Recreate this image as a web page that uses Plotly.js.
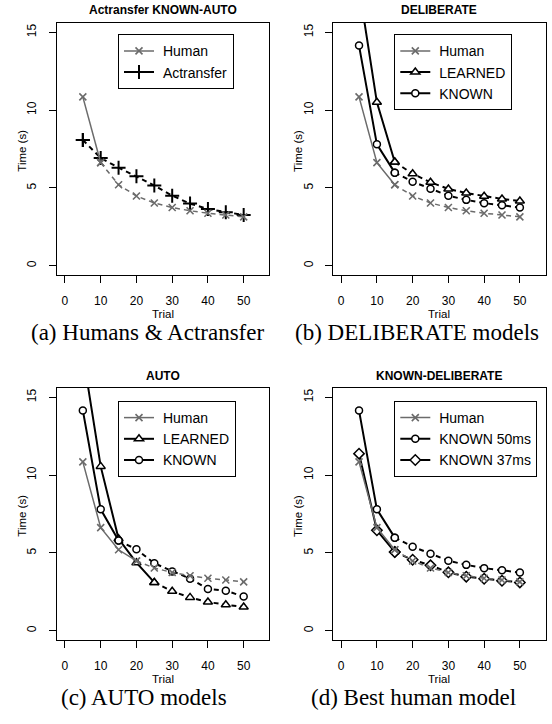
<!DOCTYPE html>
<html>
<head>
<meta charset="utf-8">
<script src="https://cdn.plot.ly/plotly-3.0.1.min.js"></script>
<style>
html,body{margin:0;padding:0;background:#fff;}
#chart{width:552px;height:724px;}
</style>
</head>
<body>
<div id="chart"></div>
<script>
// ---- data ----
var trials = [5, 10, 15, 20, 25, 30, 35, 40, 45, 50];
var human = [10.85, 6.62, 5.2, 4.48, 4.03, 3.74, 3.53, 3.37, 3.26, 3.14];
var actransfer = [8.08, 6.92, 6.3, 5.75, 5.15, 4.5, 3.99, 3.64, 3.43, 3.26];
var delibLearned = [17.9, 10.5, 6.66, 5.91, 5.36, 4.93, 4.67, 4.46, 4.29, 4.16];
var delibKnown = [14.15, 7.8, 5.98, 5.4, 4.95, 4.5, 4.23, 4.02, 3.88, 3.74];
var autoLearned = [17.8, 10.56, 5.91, 4.37, 3.1, 2.53, 2.14, 1.84, 1.67, 1.52];
var autoKnown = [14.16, 7.8, 5.79, 5.23, 4.33, 3.81, 3.34, 2.68, 2.57, 2.19];
var known50 = [14.15, 7.8, 5.98, 5.4, 4.95, 4.5, 4.23, 4.02, 3.88, 3.74];
var known37 = [11.38, 6.45, 5.06, 4.56, 4.2, 3.75, 3.47, 3.34, 3.21, 3.1];

var panelTitles = ["Actransfer KNOWN-AUTO", "DELIBERATE", "AUTO", "KNOWN-DELIBERATE"];
var captions = ["(a) Humans & Actransfer", "(b) DELIBERATE models", "(c) AUTO models", "(d) Best human model"];
var xTitle = "Trial";
var yTitle = "Time (s)";
var xTicks = [0, 10, 20, 30, 40, 50];
var yTicks = [0, 5, 10, 15];

// ---- styles ----
var GRAY = '#6b6b6b';
var styles = {
  Human: {color: GRAY, width: 1.5, symbol: 'x-thin-open', size: 7, mlw: 1.6, fill: GRAY},
  Actransfer: {color: '#000', width: 2, symbol: 'cross-thin-open', size: 10, mlw: 2, fill: '#000'},
  LEARNED: {color: '#000', width: 2, symbol: 'triangle-up', size: 8, mlw: 1.5, fill: '#fff'},
  KNOWN: {color: '#000', width: 2, symbol: 'circle', size: 7, mlw: 1.5, fill: '#fff'},
  'KNOWN 50ms': {color: '#000', width: 2, symbol: 'circle', size: 7, mlw: 1.5, fill: '#fff'},
  'KNOWN 37ms': {color: '#000', width: 2, symbol: 'diamond', size: 8, mlw: 1.5, fill: '#fff'}
};

// panel, name, values, last solid index, rank
var series = [
  [1, 'Actransfer', actransfer, 0, 2],
  [1, 'Human', human, 1, 1],
  [2, 'LEARNED', delibLearned, 2, 2],
  [2, 'KNOWN', delibKnown, 2, 3],
  [2, 'Human', human, 2, 1],
  [3, 'LEARNED', autoLearned, 4, 2],
  [3, 'KNOWN', autoKnown, 2, 3],
  [3, 'Human', human, 3, 1],
  [4, 'KNOWN 50ms', known50, 2, 2],
  [4, 'KNOWN 37ms', known37, 2, 3],
  [4, 'Human', human, 2, 1]
];

var traces = [];
series.forEach(function(s) {
  var p = s[0], name = s[1], vals = s[2], k = s[3], rank = s[4];
  var st = styles[name];
  var ax = p === 1 ? '' : String(p);
  var common = {
    xaxis: 'x' + ax, yaxis: 'y' + ax,
    legend: p === 1 ? 'legend' : 'legend' + p,
    name: '\u00a0' + name, legendrank: rank,
    mode: 'lines+markers',
    marker: {symbol: st.symbol, size: st.size, color: st.fill, line: {color: st.color, width: st.mlw}},
    cliponaxis: true, hoverinfo: 'skip'
  };
  traces.push(Object.assign({}, common, {
    x: trials.slice(0, k + 1), y: vals.slice(0, k + 1),
    line: {color: st.color, width: st.width, dash: 'solid'},
    showlegend: true
  }));
  traces.push(Object.assign({}, common, {
    x: trials.slice(k), y: vals.slice(k),
    line: {color: st.color, width: st.width, dash: '5px,4px'},
    showlegend: false
  }));
});

var W = 552, H = 724;
var xDom = [[57.1, 269.4], [333.3, 545.6], [57.1, 269.4], [333.3, 545.6]];
var yDom = [[23, 275], [23, 275], [388, 640], [388, 640]];
var capX = [147, 417, 144, 413];

var FONT = "'Liberation Sans', Arial, Helvetica, sans-serif";
var SERIF = "'Liberation Serif', 'Times New Roman', Times, serif";
var layout = {
  width: W, height: H,
  margin: {l: 0, r: 0, t: 0, b: 0},
  paper_bgcolor: '#fff', plot_bgcolor: '#fff',
  font: {family: FONT, size: 12, color: '#000'},
  showlegend: true,
  annotations: [],
  shapes: []
};

function ann(x, y, text, font, extra) {
  var a = {xref: 'paper', yref: 'paper', x: x / W, y: 1 - y / H, text: text,
    showarrow: false, xanchor: 'center', yanchor: 'middle', font: font};
  return Object.assign(a, extra || {});
}

for (var i = 0; i < 4; i++) {
  var ax = i === 0 ? '' : String(i + 1);
  var cx = (xDom[i][0] + xDom[i][1]) / 2;
  layout['xaxis' + ax] = {
    domain: [xDom[i][0] / W, xDom[i][1] / W],
    anchor: 'y' + ax,
    range: [-2.2, 57.2],
    tickvals: xTicks, ticktext: xTicks.map(String),
    ticks: 'outside', ticklen: 7, tickwidth: 1, tickcolor: '#000',
    ticklabelstandoff: 8,
    showline: true, mirror: true, linecolor: '#000', linewidth: 1,
    showgrid: false, zeroline: false,
    tickfont: {family: FONT, size: 12, color: '#000'},
    fixedrange: true
  };
  layout['yaxis' + ax] = {
    domain: [1 - yDom[i][1] / H, 1 - yDom[i][0] / H],
    anchor: 'x' + ax,
    range: [-0.6, 15.6],
    tickvals: yTicks, ticktext: yTicks.map(String),
    tickangle: -90,
    ticks: 'outside', ticklen: 7, tickwidth: 1, tickcolor: '#000',
    ticklabelstandoff: 8,
    showline: true, mirror: true, linecolor: '#000', linewidth: 1,
    showgrid: false, zeroline: false,
    tickfont: {family: FONT, size: 12, color: '#000'},
    fixedrange: true
  };
  // panel title
  layout.annotations.push(ann(cx, yDom[i][0] - 12.5, '<b>' + panelTitles[i] + '</b>',
    {family: FONT, size: 12, color: '#000'}));
  // axis titles
  layout.annotations.push(ann(cx, yDom[i][1] + 39, xTitle, {family: FONT, size: 11.5, color: '#000'}));
  layout.annotations.push(ann(xDom[i][0] - 35.4, (yDom[i][0] + yDom[i][1]) / 2 + 2, yTitle,
    {family: FONT, size: 11.5, color: '#000'}, {textangle: -90}));
  // caption
  layout.annotations.push(ann(capX[i], yDom[i][1] + 57, captions[i].replace('&', '&amp;'),
    {family: SERIF, size: 23, color: '#000'}));
  layout[i === 0 ? 'legend' : 'legend' + (i + 1)] = {
    x: (i % 2 === 0 ? 118 : 394.3) / W,
    y: 1 - (i < 2 ? 34.3 : 401) / H,
    xanchor: 'left', yanchor: 'top',
    bgcolor: '#fff', bordercolor: '#000', borderwidth: 1,
    font: {family: FONT, size: 14, color: '#000'},
    traceorder: 'normal', itemwidth: 30,
    tracegroupgap: 0
  };
}

Plotly.newPlot('chart', traces, layout, {staticPlot: true, displayModeBar: false});
</script>
</body>
</html>
